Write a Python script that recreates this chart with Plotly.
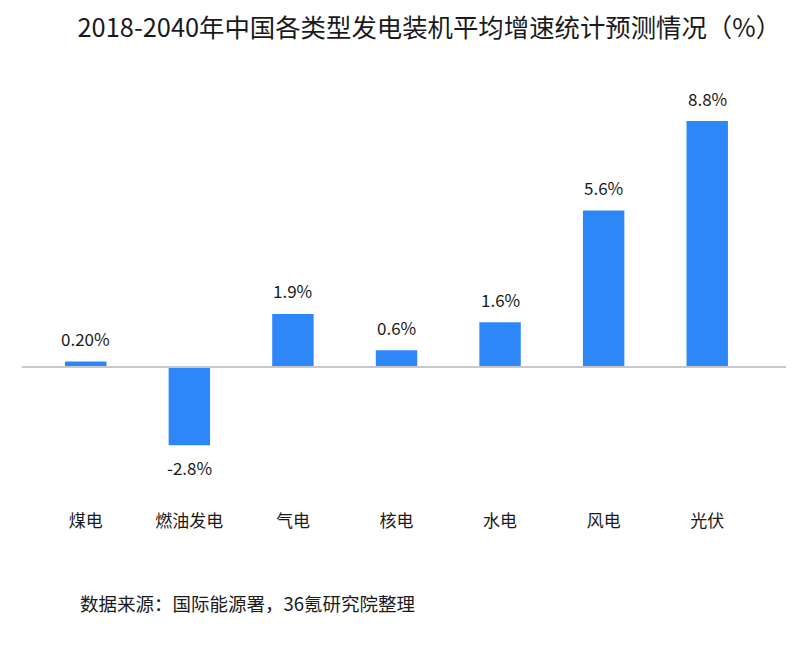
import plotly.graph_objects as go

# ── Data ─────────────────────────────────────────────────
categories = ["煤电", "燃油发电", "气电", "核电", "水电", "风电", "光伏"]
growth = [0.2, -2.8, 1.9, 0.6, 1.6, 5.6, 8.8]
labels = ["0.20%", "-2.8%", "1.9%", "0.6%", "1.6%", "5.6%", "8.8%"]

FONT = "Noto Sans CJK SC, Noto Sans, sans-serif"
BAR_COLOR = "#2e87f9"
TEXT_COLOR = "#1a1a1a"

fig = go.Figure()
fig.add_trace(go.Bar(
    x=categories, y=growth,
    marker=dict(color=BAR_COLOR, line=dict(width=0)),
    width=0.4,
    hoverinfo="x+y",
))

# value labels above / below each bar
for cat, val, lab in zip(categories, growth, labels):
    fig.add_annotation(
        x=cat, y=val, text=lab, showarrow=False,
        yshift=23 if val >= 0 else -22,
        font=dict(family=FONT, size=17, color=TEXT_COLOR),
    )

# zero baseline
fig.add_shape(type="line", xref="paper", yref="y",
              x0=-0.017, x1=1.043, y0=0, y1=0,
              line=dict(color="#c8c8c8", width=2), layer="above")

# source note
fig.add_annotation(
    text="数据来源：国际能源署，36氪研究院整理",
    xref="paper", yref="paper", x=0.061, y=-0.219,
    xanchor="left", yanchor="middle", showarrow=False,
    font=dict(family=FONT, size=18.5, color=TEXT_COLOR),
)

# ── Layout ───────────────────────────────────────────────
fig.update_layout(
    title=dict(text="2018-2040年中国各类型发电装机平均增速统计预测情况（%）",
               x=0.536, xanchor="center", y=0.968, yanchor="middle",
               font=dict(family=FONT, size=25.4, color=TEXT_COLOR)),
    width=786, height=639,
    margin=dict(l=26, r=35, t=72, b=138),
    paper_bgcolor="white",
    plot_bgcolor="white",
    showlegend=False,
    xaxis=dict(showgrid=False, zeroline=False, showline=False,
               ticks="", tickfont=dict(family=FONT, size=17, color=TEXT_COLOR),
               range=[-0.5, 6.5]),
    yaxis=dict(visible=False, range=[-5.08, 10.27], zeroline=False,
               showgrid=False),
)

fig.write_html("out.html")
